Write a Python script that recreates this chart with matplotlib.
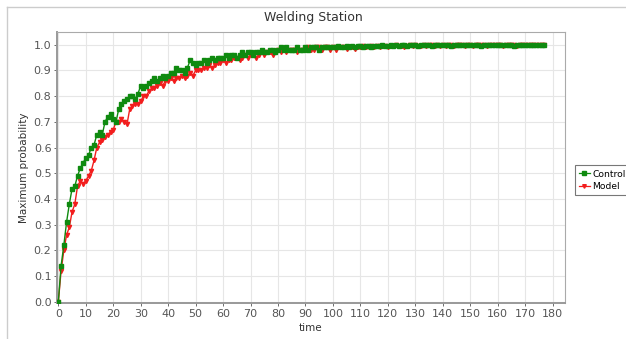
import matplotlib
matplotlib.use("Agg")
import matplotlib.pyplot as plt
from matplotlib.lines import Line2D

# Maximum probability per time step for both series
control = [
    0.00, 0.14, 0.22, 0.31, 0.38, 0.44, 0.45, 0.49, 0.52, 0.54,
    0.56, 0.57, 0.60, 0.61, 0.65, 0.66, 0.65, 0.70, 0.72, 0.73,
    0.71, 0.70, 0.75, 0.77, 0.78, 0.79, 0.80, 0.80, 0.79, 0.81,
    0.84, 0.83, 0.84, 0.85, 0.86, 0.87, 0.86, 0.87, 0.88, 0.87,
    0.88, 0.89, 0.89, 0.91, 0.90, 0.90, 0.89, 0.91, 0.94, 0.93,
    0.92, 0.93, 0.93, 0.94, 0.93, 0.94, 0.95, 0.94, 0.95, 0.95,
    0.95, 0.96, 0.95, 0.96, 0.96, 0.95, 0.96, 0.97, 0.96, 0.97,
    0.97, 0.96, 0.97, 0.97, 0.98, 0.97, 0.97, 0.98, 0.98, 0.97,
    0.98, 0.99, 0.98, 0.99, 0.98, 0.98, 0.98, 0.99, 0.98, 0.98,
    0.99, 0.98, 0.99, 0.99, 0.99, 0.98, 0.99, 0.99, 0.99, 0.99,
    0.99, 0.99, 0.995, 0.99, 0.99, 0.995, 0.99, 0.995, 0.99, 0.995,
    0.995, 0.99, 0.995, 0.995, 0.99, 0.995, 0.995, 0.995, 0.997, 0.995,
    0.995, 0.997, 0.995, 0.997, 0.995, 0.997, 0.997, 0.995, 0.997, 0.997,
    0.997, 0.995, 0.997, 0.997, 0.998, 0.997, 0.995, 0.997, 0.998, 0.997,
    0.997, 0.998, 0.997, 0.995, 0.997, 0.998, 0.997, 0.998, 0.997, 0.997,
    0.998, 0.997, 0.998, 0.997, 0.995, 0.997, 0.998, 0.997, 0.998, 0.998,
    0.997, 0.998, 0.997, 0.998, 0.998, 0.997, 0.995, 0.998, 0.997, 0.998,
    0.998, 0.997, 0.998, 0.997, 0.998, 0.998, 0.997, 0.998,
]

model = [
    0.00, 0.12, 0.20, 0.26, 0.29, 0.35, 0.38, 0.45, 0.47, 0.46,
    0.47, 0.49, 0.51, 0.55, 0.60, 0.62, 0.63, 0.64, 0.65, 0.66,
    0.67, 0.70, 0.70, 0.71, 0.70, 0.69, 0.75, 0.76, 0.77, 0.77,
    0.78, 0.80, 0.80, 0.82, 0.83, 0.83, 0.84, 0.85, 0.84, 0.86,
    0.86, 0.87, 0.86, 0.87, 0.87, 0.88, 0.87, 0.88, 0.89, 0.88,
    0.90, 0.90, 0.90, 0.91, 0.91, 0.92, 0.91, 0.92, 0.93, 0.93,
    0.94, 0.93, 0.94, 0.94, 0.95, 0.95, 0.94, 0.95, 0.96, 0.95,
    0.96, 0.96, 0.95, 0.96, 0.97, 0.96, 0.97, 0.97, 0.96, 0.97,
    0.98, 0.97, 0.98, 0.97, 0.98, 0.98, 0.98, 0.97, 0.98, 0.98,
    0.98, 0.99, 0.98, 0.98, 0.99, 0.99, 0.98, 0.99, 0.99, 0.98,
    0.99, 0.98, 0.99, 0.99, 0.99, 0.985, 0.99, 0.99, 0.985, 0.99,
    0.99, 0.995, 0.99, 0.99, 0.995, 0.99, 0.995, 0.99, 0.995, 0.995,
    0.99, 0.995, 0.995, 0.997, 0.995, 0.995, 0.99, 0.995, 0.997, 0.995,
    0.997, 0.995, 0.995, 0.997, 0.995, 0.997, 0.997, 0.995, 0.997, 0.995,
    0.997, 0.995, 0.997, 0.997, 0.995, 0.997, 0.997, 0.998, 0.995, 0.997,
    0.997, 0.995, 0.997, 0.998, 0.997, 0.997, 0.995, 0.997, 0.998, 0.997,
    0.997, 0.998, 0.995, 0.997, 0.997, 0.998, 0.997, 0.995, 0.997, 0.998,
    0.997, 0.998, 0.997, 0.997, 0.998, 0.997, 0.998, 0.997,
]

time = list(range(len(control)))
x_ticks = list(range(0, 181, 10))
y_ticks = [i / 10 for i in range(11)]

GREEN = "#0f8a0f"
RED = "#f21d1d"

fig = plt.figure(figsize=(6.26, 3.39), dpi=100)
ax = fig.add_axes([0.091, 0.106, 0.8115, 0.8])

ax.plot(time, model, color=RED, lw=1.0, marker="v", ms=3.0, mec=RED, mfc=RED, zorder=3)
ax.plot(time, control, color=GREEN, lw=1.0, marker="s", ms=3.3, mec=GREEN, mfc=GREEN, zorder=4)

ax.set_xlim(-0.5, 184.5)
ax.set_ylim(-0.005, 1.05)
ax.set_xticks(x_ticks)
ax.set_yticks(y_ticks)
ax.set_yticklabels([f"{v:.1f}" for v in y_ticks])
ax.grid(True, color="#e6e6e6", lw=0.8)
ax.set_axisbelow(True)
ax.tick_params(labelsize=8, colors="#555555", length=2, width=0.6, pad=2)

for side in ["top", "right"]:
    ax.spines[side].set_color("#aaaaaa")
    ax.spines[side].set_linewidth(0.8)
for side in ["left", "bottom"]:
    ax.spines[side].set_color("#999999")
    ax.spines[side].set_linewidth(1.4)

ax.set_xlabel("time", fontsize=7.5, color="#333333", labelpad=3)
ax.set_ylabel("Maximum probability", fontsize=7.5, color="#333333", labelpad=3)
fig.text(0.5, 0.948, "Welding Station", ha="center", va="center", fontsize=9, color="#333333")

# light frame around the whole chart
fig.add_artist(Line2D([0.011, 1.0], [0.979, 0.979], color="#cccccc", lw=1.0))
fig.add_artist(Line2D([0.011, 0.011], [0.0, 0.979], color="#cccccc", lw=1.0))

handles = [
    Line2D([], [], color=GREEN, lw=0.9, marker="s", ms=2.8),
    Line2D([], [], color=RED, lw=0.9, marker="v", ms=2.6),
]
leg = fig.legend(handles, ["Control", "Model"], loc="upper left",
                 bbox_to_anchor=(0.918, 0.512), fontsize=6.6, frameon=True,
                 fancybox=False, handlelength=1.2, handletextpad=0.3,
                 borderpad=0.45, labelspacing=0.35, borderaxespad=0)
leg.get_frame().set_edgecolor("#555555")
leg.get_frame().set_linewidth(0.8)

fig.savefig("out.png", dpi=100)
